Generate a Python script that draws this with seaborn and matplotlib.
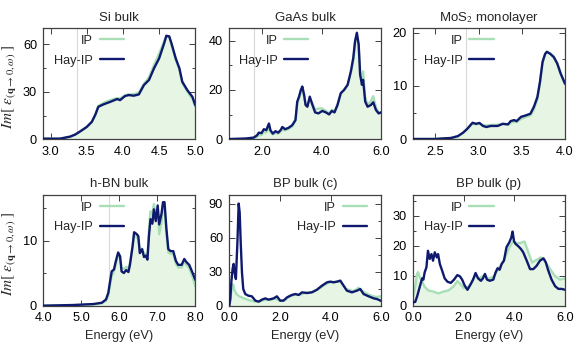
import matplotlib
matplotlib.use('Agg')
import matplotlib.pyplot as plt
from matplotlib.ticker import MultipleLocator, FormatStrFormatter
import seaborn as sns

# ---------------- data ----------------
titles = ["Si bulk", "GaAs bulk", "MoS$_2$ monolayer", "h-BN bulk", "BP bulk (c)", "BP bulk (p)"]
legend_labels = ["IP", "Hay-IP"]
gap_energies = [3.36, 1.72, 2.855, 5.73, None, None]

si_x = [2.9, 3.13, 3.27, 3.34, 3.41, 3.5, 3.57, 3.62, 3.66, 3.73, 3.83, 3.92, 3.96, 4.03, 4.08, 4.15,
        4.22, 4.29, 4.36, 4.43, 4.5, 4.57, 4.6, 4.64, 4.67, 4.73, 4.78, 4.82, 4.89, 4.96, 5.0]
si_hay = [0.4, 0.4, 1.7, 3, 5, 7.8, 11, 15.6, 20.5, 22, 23.7, 25.4, 24.7, 27.3, 27.9, 27.5,
          28.3, 34.2, 37.4, 44.8, 51, 60.6, 65.3, 64.9, 60.6, 51, 44.8, 36.3, 31, 26.8, 21.5]
si_ip = [0.4, 0.4, 1.5, 2.8, 4.8, 7.6, 10.8, 15.8, 21, 23, 24.8, 26, 25.8, 27.8, 28.3, 28.5,
         29.5, 35, 39, 47, 54, 62, 65, 64.5, 60, 50, 44, 35.5, 30, 25.5, 20.5]

gaas_x = [0.9, 1.44, 1.72, 1.83, 1.89, 1.98, 2.06, 2.14, 2.23, 2.28, 2.36, 2.45, 2.54, 2.62, 2.68, 2.77,
          2.88, 3.01, 3.12, 3.18, 3.24, 3.3, 3.35, 3.41, 3.46, 3.52, 3.6, 3.69, 3.78, 3.89, 4.02, 4.14,
          4.25, 4.34, 4.43, 4.53, 4.64, 4.75, 4.87, 4.98, 5.06, 5.12, 5.18, 5.24, 5.29, 5.35, 5.39, 5.46,
          5.54, 5.65, 5.73, 5.82, 5.91, 6.0]
gaas_hay = [0.1, 0.3, 0.7, 1.6, 2.7, 2.5, 4.1, 3.7, 6.4, 3.7, 2.3, 3.3, 2.7, 3.7, 5.0, 4.1,
            4.6, 5.7, 7.8, 15.3, 17.3, 20, 21.4, 18, 13.9, 13.2, 17.3, 13.9, 10.9, 10.5, 11.5, 10.9,
            10.1, 11.5, 10.9, 13.9, 18.7, 20, 22.1, 27.6, 33, 39.8, 43.2, 38.5, 26.2, 22.1, 24.1, 15.3,
            13.2, 13.9, 15, 11.9, 10.5, 10.9]
gaas_ip = [0.1, 0.2, 0.5, 1.0, 1.6, 1.8, 2.8, 2.8, 4.5, 3.0, 2.0, 2.6, 2.3, 3.0, 4.0, 3.6,
           4.2, 5.2, 7.5, 14.5, 16.5, 19, 20, 17.5, 14, 13.5, 16.5, 14.5, 12, 12.5, 12.5, 11.5,
           10.5, 12, 11.5, 14, 18.5, 20, 22, 27, 32, 39, 42.5, 38, 27, 25, 27.5, 17,
           14, 15.5, 17.5, 13, 11, 11]

mos2_x = [2.24, 2.49, 2.68, 2.76, 2.82, 2.87, 2.91, 2.93, 2.97, 3.01, 3.05, 3.09, 3.14, 3.22, 3.28, 3.34,
          3.37, 3.41, 3.44, 3.49, 3.55, 3.6, 3.64, 3.68, 3.71, 3.74, 3.77, 3.79, 3.83, 3.87, 3.91, 3.95, 4.0]
mos2_hay = [0.06, 0.06, 0.25, 0.6, 1.25, 2.0, 2.75, 3.1, 2.9, 3.06, 2.5, 2.3, 2.5, 2.5, 2.9, 2.8,
            3.4, 3.6, 3.4, 4.2, 4.5, 4.8, 6.1, 7.9, 10.75, 14.5, 16, 16.4, 16, 15.4, 14.2, 12.3, 10.4]
mos2_ip = [0.06, 0.06, 0.22, 0.55, 1.15, 1.9, 2.6, 2.9, 2.8, 2.9, 2.7, 2.6, 2.7, 2.7, 2.9, 2.7,
           3.1, 3.3, 3.2, 3.8, 4.2, 4.5, 5.6, 7.5, 10.5, 14.3, 16, 16.4, 16.1, 15.5, 14.3, 12.4, 10.5]

hbn_x = [4.0, 4.79, 5.32, 5.54, 5.65, 5.71, 5.75, 5.8, 5.86, 5.91, 5.97, 6.02, 6.06, 6.12, 6.18, 6.24,
         6.28, 6.35, 6.39, 6.46, 6.5, 6.54, 6.6, 6.65, 6.7, 6.74, 6.78, 6.82, 6.87, 6.91, 6.96, 7.01,
         7.05, 7.11, 7.15, 7.19, 7.24, 7.29, 7.35, 7.42, 7.49, 7.55, 7.64, 7.71, 7.77, 7.84, 7.93, 8.0]
hbn_hay = [0.05, 0.15, 0.3, 0.5, 1.0, 2.0, 3.5, 5.3, 5.6, 6.9, 8.2, 7.6, 5.3, 5.05, 5.5, 5.2,
           6.3, 9.2, 11.3, 11.0, 10.7, 8.1, 8.7, 7.5, 7.7, 7.1, 10.7, 13.3, 12.6, 14.8, 13.0, 15.4,
           12.5, 14.1, 15.9, 15.9, 11.8, 8.7, 8.4, 8.4, 6.9, 6.3, 6.3, 7.2, 6.7, 6.3, 5.05, 4.0]
hbn_ip = [0.05, 0.12, 0.25, 0.4, 0.8, 1.6, 3.0, 4.6, 5.3, 6.4, 7.8, 7.6, 5.8, 5.7, 6.0, 5.7,
          6.6, 9.0, 10.8, 10.5, 10.2, 8.5, 8.8, 8.0, 8.0, 7.6, 11.5, 14.5, 14.0, 15.6, 14.0, 14.6,
          11.0, 12.8, 15.2, 15.3, 11.0, 8.2, 8.0, 7.9, 6.5, 5.9, 5.9, 6.8, 6.3, 5.8, 4.4, 3.0]

bpc_x_hay = [0, 0.04, 0.08, 0.13, 0.17, 0.21, 0.26, 0.32, 0.37, 0.41, 0.45, 0.5, 0.55, 0.63, 0.76, 0.89,
             1.03, 1.16, 1.29, 1.42, 1.55, 1.75, 1.88, 2.01, 2.14, 2.28, 2.47, 2.61, 2.74, 2.87, 3.07, 3.26,
             3.46, 3.66, 3.86, 3.99, 4.12, 4.25, 4.38, 4.51, 4.64, 4.84, 5.04, 5.17, 5.3, 5.5, 5.7, 5.83, 6.0]
bpc_hay = [0.3, 6, 21, 32.5, 37, 29.6, 23.7, 56, 90, 82, 56, 29.6, 15, 10.5, 9, 8.5,
           4.7, 3.8, 5.6, 6.7, 5.6, 6.7, 8.5, 4.7, 4.7, 7.6, 9.7, 10.5, 9.7, 12, 11.4, 12,
           14.3, 17.9, 20.8, 21.4, 20.8, 21.4, 22.3, 17.9, 13.5, 12, 13.5, 14.9, 10.5, 8.5, 6.7, 6.1, 4.4]
bpc_x_ip = [0, 0.05, 0.1, 0.15, 0.2, 0.3, 0.4, 0.6, 0.8, 1.0, 1.2, 1.4, 1.6, 1.8, 2.0, 2.2,
            2.4, 2.6, 2.8, 3.0, 3.3, 3.6, 3.9, 4.1, 4.4, 4.6, 4.9, 5.1, 5.3, 5.6, 5.8, 6.0]
bpc_ip = [0.3, 8, 16, 19, 14, 10, 8.5, 6.5, 5, 4, 4, 5.5, 5.2, 6.5, 4.5, 5.5,
          8.5, 10, 10, 11.5, 12.5, 16, 20.5, 21, 21.5, 15, 13, 16, 12.5, 9, 8, 8.5]

bpp_x_hay = [0, 0.09, 0.17, 0.26, 0.36, 0.41, 0.46, 0.53, 0.59, 0.66, 0.73, 0.79, 0.86, 0.94, 0.99, 1.06,
             1.15, 1.25, 1.36, 1.49, 1.62, 1.75, 1.85, 1.94, 2.04, 2.15, 2.26, 2.37, 2.47, 2.57, 2.68, 2.76,
             2.84, 2.92, 3.03, 3.17, 3.26, 3.34, 3.42, 3.5, 3.59, 3.69, 3.8, 3.88, 3.93, 3.99, 4.05, 4.16,
             4.26, 4.35, 4.49, 4.62, 4.75, 4.88, 5.01, 5.15, 5.24, 5.34, 5.47, 5.61, 5.74, 5.87, 6.0]
bpp_hay = [1.2, 1.4, 3.4, 6.2, 9.2, 8.8, 11.2, 12.9, 18.4, 15.7, 17.3, 15.1, 17.9, 16.2, 17.3, 14,
           11.8, 9.2, 8.1, 7.7, 8.8, 10.3, 9.9, 8.8, 6.8, 5.4, 7, 8.8, 11, 9.2, 8.4, 9.2,
           10.7, 8.8, 8.4, 8.8, 11.2, 12.6, 12.1, 14, 15.1, 19.6, 21.2, 22.8, 24.8, 21.5, 20.7, 19.9,
           19, 17.9, 15.1, 12.3, 12.3, 13.4, 15.1, 15.9, 14.6, 11.8, 8.8, 6.6, 5.7, 5.7, 5.4]
bpp_x_ip = [0, 0.1, 0.15, 0.2, 0.27, 0.35, 0.45, 0.6, 0.8, 1.0, 1.2, 1.4, 1.6, 1.75, 1.85, 2.0,
            2.15, 2.3, 2.45, 2.6, 2.8, 3.0, 3.2, 3.4, 3.6, 3.8, 3.95, 4.1, 4.25, 4.4, 4.55, 4.7,
            4.9, 5.05, 5.2, 5.4, 5.6, 5.8, 6.0]
bpp_ip = [3, 7, 10.5, 11.3, 9.5, 8.5, 6.5, 5.2, 4.8, 4.2, 4.8, 5.2, 6.5, 8.3, 7.5, 6,
          6.2, 7.5, 10, 9.2, 10.2, 9, 10, 12.8, 15.5, 19.5, 21.5, 21, 21, 21.5, 18, 14.5,
          15.5, 16.2, 15, 12.5, 10, 8.8, 9.2]

# ---------------- style ----------------
sns.set_theme(style='ticks')
plt.rcParams['font.family'] = ['Liberation Sans', 'DejaVu Sans']
plt.rcParams['mathtext.fontset'] = 'stix'
plt.rcParams['font.size'] = 9

IP_LINE = '#a8dfb6'
IP_FILL = '#e7f5e4'
HAY = '#0f1a6e'
GAP = '#d8d8d8'
FRAME = '#404040'
FS = 9.2

panels = [
    dict(hx=si_x, hy=si_hay, ix=si_x, iy=si_ip, xlim=(2.9, 5.0), ylim=(0, 70), xmaj=0.5, ymaj=30, ymin=15, fmt='%.1f', leg=0.53),
    dict(hx=gaas_x, hy=gaas_hay, ix=gaas_x, iy=gaas_ip, xlim=(0.9, 6.0), ylim=(0, 45), xmaj=2.0, ymaj=20, ymin=10, fmt='%.1f', leg=0.52),
    dict(hx=mos2_x, hy=mos2_hay, ix=mos2_x, iy=mos2_ip, xlim=(2.24, 4.0), ylim=(0, 20.8), xmaj=0.5, ymaj=10, ymin=5, fmt='%.1f', leg=0.53),
    dict(hx=hbn_x, hy=hbn_hay, ix=hbn_x, iy=hbn_ip, xlim=(4.0, 8.0), ylim=(0, 17), xmaj=1.0, ymaj=10, ymin=5, fmt='%.1f', leg=0.53),
    dict(hx=bpc_x_hay, hy=bpc_hay, ix=bpc_x_ip, iy=bpc_ip, xlim=(0, 6.0), ylim=(0, 97.5), xmaj=2.0, ymaj=30, ymin=15, fmt='%.1f', leg=0.905),
    dict(hx=bpp_x_hay, hy=bpp_hay, ix=bpp_x_ip, iy=bpp_ip, xlim=(0, 6.0), ylim=(0, 37), xmaj=2.0, ymaj=10, ymin=5, fmt='%.1f', leg=0.53),
]

W, H = 583, 363
fig = plt.figure(figsize=(W / 100, H / 100), dpi=100)
lefts = [43.3, 229.3, 413.0]
tops = [28.3, 195.0]
aw, ah = 152, 111

ylabel = r'$Im[\ \varepsilon_{(\mathbf{q}\rightarrow 0,\omega)}\ ]$'

for i, p in enumerate(panels):
    r, c = divmod(i, 3)
    ax = fig.add_axes([lefts[c] / W, 1 - (tops[r] + ah) / H, aw / W, ah / H])
    if gap_energies[i] is not None:
        ax.axvline(gap_energies[i], color=GAP, lw=0.8, zorder=0)
    ax.fill_between(p['ix'], 0, p['iy'], color=IP_FILL, lw=0, zorder=1)
    sns.lineplot(x=p['ix'], y=p['iy'], ax=ax, color=IP_LINE, lw=1.7, label=legend_labels[0], zorder=2)
    sns.lineplot(x=p['hx'], y=p['hy'], ax=ax, color=HAY, lw=1.7, label=legend_labels[1], zorder=3)
    ax.set_xlim(*p['xlim'])
    ax.set_ylim(*p['ylim'])
    ax.xaxis.set_major_locator(MultipleLocator(p['xmaj']))
    ax.xaxis.set_major_formatter(FormatStrFormatter(p['fmt']))
    ax.yaxis.set_major_locator(MultipleLocator(p['ymaj']))
    ax.yaxis.set_minor_locator(MultipleLocator(p['ymin']))
    ax.tick_params(which='both', direction='in', top=True, right=True, color=FRAME,
                   labelsize=FS, labelcolor='black', pad=4.5, width=0.7)
    ax.tick_params(which='major', length=4)
    ax.tick_params(which='minor', length=2.5)
    for s in ax.spines.values():
        s.set_color(FRAME)
        s.set_linewidth(0.9)
        s.set_visible(True)
    ax.set_title(titles[i], fontsize=FS + 0.3, pad=5.5)
    ax.set_xlabel('Energy (eV)' if r == 1 else '', fontsize=FS, labelpad=4)
    if c == 0:
        ax.set_ylabel(ylabel, fontsize=11)
        ax.yaxis.set_label_coords(-0.16, 0.47)
    else:
        ax.set_ylabel('')
    ax.legend(loc='upper right', bbox_to_anchor=(p['leg'], 0.94), frameon=False, markerfirst=False,
              handlelength=1.9, handletextpad=0.5, labelspacing=0.6, borderpad=0, borderaxespad=0,
              fontsize=FS)

fig.savefig('out.png', dpi=100)
